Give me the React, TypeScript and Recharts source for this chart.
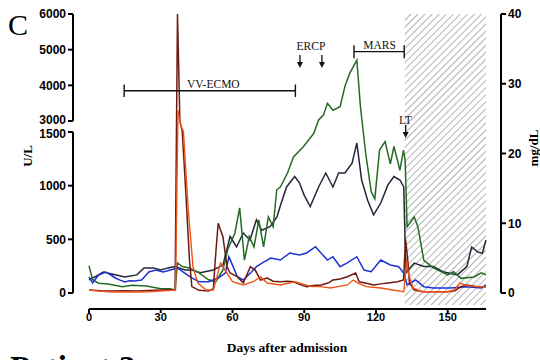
import { LineChart, Line, XAxis, YAxis, ReferenceArea, ReferenceLine, ReferenceDot } from "recharts";

// ---- values (left axis U/L, right axis mg/dL) ----
const maroonDays = [0, 5, 10, 15, 20, 25, 30, 33, 36, 37, 38, 39, 40.5, 42, 43, 46, 50, 52, 52.8, 54, 56, 57.7, 59, 62, 64.5, 67.5, 69.5, 71.7, 74.5, 77, 80, 83, 85.5, 88, 91, 94, 97, 100, 102, 105, 108, 111.5, 113, 116, 119, 122, 125, 129, 131.5, 132.4, 133.3, 134, 136, 140, 145, 150, 153, 155.5, 158, 162.5, 166];
const maroonVals = [28, 22, 19, 20, 19, 24, 28, 30, 30, 6000, 3000, 1550, 930, 310, 60, 25, 19, 40, 307, 650, 525, 245, 186, 152, 93, 245, 214, 121, 140, 110, 105, 110, 105, 80, 59, 70, 75, 93, 121, 130, 152, 186, 105, 90, 75, 85, 93, 105, 121, 500, 300, 93, 28, 12, 12, 12, 20, 59, 75, 59, 59];

const orangeDays = [0, 5, 10, 15, 20, 25, 30, 33, 36.2, 37.2, 38.3, 39.5, 41.5, 43.5, 45.5, 49, 52, 53.5, 55, 57.7, 60, 64.5, 68.7, 71.7, 74.5, 80, 86, 90, 93, 97, 101, 104, 108, 110.5, 112.5, 116, 122, 127, 131.6, 132.8, 133.5, 135.5, 139, 145, 150, 153, 155, 158, 162, 166];
const orangeVals = [28, 15, 9, 12, 9, 12, 19, 22, 28, 3300, 2500, 1550, 773, 242, 93, 28, 28, 150, 280, 186, 105, 75, 105, 152, 93, 75, 105, 80, 59, 59, 47, 59, 75, 121, 93, 59, 47, 28, 12, 307, 186, 47, 12, 12, 12, 30, 93, 70, 59, 59];

const blueDays = [0, 1.5, 4, 7, 9, 11, 13, 15, 17, 19, 22, 25, 28, 31, 34, 37, 40, 43, 46, 50, 54, 57, 58.5, 60, 62, 64.5, 67.5, 70, 72.5, 76, 80, 84, 88, 91, 94.7, 97, 99.7, 102, 105, 108, 112, 115, 118, 122, 126, 129.5, 131.6, 133, 136.6, 140, 144, 151, 158, 164, 166];
const blueVals = [149, 93, 168, 196, 170, 140, 120, 102, 115, 112, 121, 196, 214, 196, 214, 233, 186, 140, 105, 105, 140, 186, 338, 260, 152, 121, 186, 245, 280, 326, 307, 373, 354, 373, 431, 373, 307, 338, 245, 280, 338, 214, 199, 307, 261, 245, 186, 75, 121, 59, 47, 47, 59, 47, 75];

const navyDays = [0, 3, 6, 10, 15, 20, 23, 27, 30, 33, 36, 40, 43, 46.5, 52, 56, 59, 61.7, 64.5, 67.3, 70, 72.2, 75.7, 78.6, 80, 82.6, 86, 88, 90, 92.5, 96, 99, 102, 104.4, 107, 110, 112, 114, 116.5, 119, 122, 125, 127.5, 130, 131.6, 132.5, 136, 140, 144, 148, 154, 158, 160, 162.5, 164.5, 166];
const navyVals = [1.9, 2.4, 3.0, 2.7, 2.3, 2.6, 3.6, 3.6, 3.3, 3.6, 3.8, 3.3, 3.3, 2.9, 3.3, 4.0, 8.1, 6.6, 8.6, 7.6, 10.5, 9.0, 9.5, 10.9, 12.5, 15.2, 16.7, 15.8, 14.0, 12.4, 15.2, 17.2, 15.2, 17.2, 17.2, 18.6, 21.5, 16.2, 13.3, 11.2, 12.9, 15.5, 16.7, 16.2, 15.2, 2.9, 4.3, 3.8, 3.8, 3.05, 2.6, 3.8, 6.6, 5.9, 5.7, 7.6];

const greenDays = [0, 1.5, 4, 8, 14, 18, 24, 30, 34, 36, 37, 39, 42, 46, 50, 53, 56, 58, 61, 63, 65, 67, 69, 71, 73, 75, 77, 78.5, 80, 83, 85.5, 89.7, 92, 94, 96, 98, 99.7, 102, 105, 107, 109, 112, 113.5, 115.7, 118, 119.5, 121.5, 123.8, 126, 127.5, 129, 130, 131.5, 132.2, 133, 136, 137.5, 140, 144, 150, 152.5, 155.5, 161, 164, 166];
const greenVals = [3.9, 1.9, 1.4, 1.3, 0.9, 1.1, 1.0, 0.6, 0.6, 0.4, 4.3, 3.8, 3.6, 2.9, 1.9, 1.6, 3.3, 6.2, 8.6, 12.2, 4.7, 8.1, 6.6, 10.5, 6.6, 10.9, 9.5, 14.8, 15.2, 17.2, 19.5, 21.0, 22.0, 22.9, 24.8, 25.5, 27.2, 26.2, 26.7, 29.6, 31.5, 33.4, 26.7, 20.0, 14.5, 13.5, 20.5, 21.7, 18.5, 21.0, 19.0, 17.6, 20.5, 19.0, 9.5, 10.9, 9.5, 4.7, 3.6, 2.6, 3.05, 2.1, 2.3, 2.9, 2.6];

const xTicks = [0, 30, 60, 90, 120, 150];
const leftTicks = [0, 500, 1000, 1500, 3000, 4000, 5000, 6000];
const rightTicks = [0, 10, 20, 30, 40];
const X_MAX = 166;

// broken left axis: 0-1500 below, 3000-6000 above, mapped to pixel-proportional units
const LOW_MAX = 1500, HIGH_MIN = 3000, HIGH_MAX = 6000;
const LOW_H = 161, GAP_H = 11, HIGH_H = 107;
const BROKEN_TOP = LOW_H + GAP_H + HIGH_H;
const toBroken = (v: number) =>
  v <= LOW_MAX ? (v / LOW_MAX) * LOW_H
    : v <= HIGH_MIN ? LOW_H + ((v - LOW_MAX) / (HIGH_MIN - LOW_MAX)) * GAP_H
      : LOW_H + GAP_H + ((v - HIGH_MIN) / (HIGH_MAX - HIGH_MIN)) * HIGH_H;
const fromBroken = (t: number) => leftTicks.find((v) => Math.abs(toBroken(v) - t) < 0.01);

const rows = (days: number[], vals: number[], f = (v: number) => v) =>
  days.map((d, i) => ({ day: d, v: f(vals[i]) }));

// plot geometry
const W = 540, H = 360;
const PLOT_L = 73, PLOT_R = 501, PLOT_T = 14, PLOT_B = 309;
const PAD_L = 16, PAD_R = 15, PAD_B = 16;
const pxPerDay = (PLOT_R - PLOT_L - PAD_L - PAD_R) / X_MAX;
const pxPerUnit = (PLOT_B - PAD_B - PLOT_T) / 40;
const AXIS_L_DAY = -PAD_L / pxPerDay;
const AXIS_R_DAY = X_MAX + PAD_R / pxPerDay;
const X_AXIS_Y = -PAD_B / pxPerUnit;
const HATCH_BOTTOM = -12 / pxPerUnit;

const tickFont = { fill: "#000", fontSize: 12, fontWeight: 700, fontFamily: "Liberation Sans, Arial" };
const serif = "Liberation Serif, Times New Roman";
const axisStroke = { stroke: "#000", strokeWidth: 2 };

// left tick labels; the two labels at the break sit a touch apart
function LeftTick({ x, y, payload }: any) {
  const v = fromBroken(payload.value);
  const dy = v === HIGH_MIN ? -1.5 : v === LOW_MAX ? 1.5 : 0;
  return (
    <text x={x} y={y + dy} dy="0.355em" textAnchor="end" {...tickFont}>{v}</text>
  );
}

const Label = (text: string) => (p: any) => (
  <text x={p.cx} y={p.cy} textAnchor="middle" fontFamily={serif} fontSize={11.5} fill="#111">{text}</text>
);
const Arrow = (p: any) => (
  <g>
    <line x1={p.cx} y1={p.cy - 13} x2={p.cx} y2={p.cy - 5} stroke="#111" strokeWidth={1.3} />
    <path d={`M${p.cx - 3},${p.cy - 6} L${p.cx + 3},${p.cy - 6} L${p.cx},${p.cy} Z`} fill="#111" />
  </g>
);
const Hatch = (p: any) => (
  <g>
    <defs>
      <pattern id="hatch" patternUnits="userSpaceOnUse" width={5} height={5} patternTransform="rotate(45)">
        <line x1={0} y1={0} x2={0} y2={5} stroke="#b3b3b3" strokeWidth={2} />
      </pattern>
    </defs>
    <rect x={p.x} y={p.y} width={p.width} height={p.height} fill="url(#hatch)" />
  </g>
);

export default function App() {
  const bracket = (x1: number, x2: number, y: number, cap: number, key: string) => [
    <ReferenceLine key={key + "h"} yAxisId="right" segment={[{ x: x1, y }, { x: x2, y }]} stroke="#111" strokeWidth={1.4} ifOverflow="visible" />,
    <ReferenceLine key={key + "a"} yAxisId="right" segment={[{ x: x1, y: y - cap }, { x: x1, y: y + cap }]} stroke="#111" strokeWidth={1.4} ifOverflow="visible" />,
    <ReferenceLine key={key + "b"} yAxisId="right" segment={[{ x: x2, y: y - cap }, { x: x2, y: y + cap }]} stroke="#111" strokeWidth={1.4} ifOverflow="visible" />,
  ];

  return (
    <div style={{ position: "absolute", left: 0, top: 0, width: W, height: H, overflow: "hidden", background: "#fff" }}>
      <LineChart width={W} height={H} margin={{ top: PLOT_T, right: W - PLOT_R - 30, bottom: H - PLOT_B - 20, left: PLOT_L - 58 }}>
        <XAxis type="number" dataKey="day" domain={[0, X_MAX]} ticks={xTicks} interval={0}
          padding={{ left: PAD_L, right: PAD_R }} axisLine={false} tickLine={axisStroke} tickSize={4} tickMargin={0}
          height={20} tick={{ ...tickFont, fontSize: 11 }} />
        <YAxis yAxisId="left" type="number" domain={[0, BROKEN_TOP]} ticks={leftTicks.map(toBroken)} interval={0}
          padding={{ top: 0, bottom: PAD_B }} axisLine={false} tickLine={axisStroke} tickSize={5} width={58} tick={<LeftTick />} />
        <YAxis yAxisId="right" orientation="right" type="number" domain={[0, 40]} ticks={rightTicks} interval={0}
          padding={{ top: 0, bottom: PAD_B }} axisLine={false} tickLine={axisStroke} tickSize={5} width={30} tick={tickFont} />

        <ReferenceArea yAxisId="right" x1={132} x2={X_MAX} y1={HATCH_BOTTOM} y2={40} ifOverflow="visible" shape={Hatch} />

        {/* axis lines drawn as segments so the left one can be broken */}
        <ReferenceLine yAxisId="left" segment={[{ x: AXIS_L_DAY, y: 0 }, { x: AXIS_L_DAY, y: LOW_H }]} {...axisStroke} ifOverflow="visible" />
        <ReferenceLine yAxisId="left" segment={[{ x: AXIS_L_DAY, y: LOW_H + GAP_H }, { x: AXIS_L_DAY, y: BROKEN_TOP }]} {...axisStroke} ifOverflow="visible" />
        <ReferenceLine yAxisId="right" segment={[{ x: AXIS_R_DAY, y: 0 }, { x: AXIS_R_DAY, y: 40 }]} {...axisStroke} ifOverflow="visible" />
        <ReferenceLine yAxisId="right" segment={[{ x: 0, y: X_AXIS_Y }, { x: X_MAX, y: X_AXIS_Y }]} {...axisStroke} ifOverflow="visible" />

        <Line data={rows(navyDays, navyVals)} dataKey="v" yAxisId="right" type="linear" stroke="#23263c" strokeWidth={1.5} dot={false} isAnimationActive={false} />
        <Line data={rows(greenDays, greenVals)} dataKey="v" yAxisId="right" type="linear" stroke="#256b25" strokeWidth={1.5} dot={false} isAnimationActive={false} />
        <Line data={rows(blueDays, blueVals, toBroken)} dataKey="v" yAxisId="left" type="linear" stroke="#1c32d4" strokeWidth={1.5} dot={false} isAnimationActive={false} />
        <Line data={rows(maroonDays, maroonVals, toBroken)} dataKey="v" yAxisId="left" type="linear" stroke="#6e1a12" strokeWidth={1.5} dot={false} isAnimationActive={false} />
        <Line data={rows(orangeDays, orangeVals, toBroken)} dataKey="v" yAxisId="left" type="linear" stroke="#ee5416" strokeWidth={1.4} dot={false} isAnimationActive={false} />

        {/* treatment annotations */}
        {bracket(14.7, 86.3, 29.0, 0.89, "ecmo")}
        <ReferenceDot yAxisId="right" x={52} y={29.35} r={0} shape={Label("VV-ECMO")} />
        <ReferenceDot yAxisId="right" x={92.8} y={34.84} r={0} shape={Label("ERCP")} />
        <ReferenceDot yAxisId="right" x={88.2} y={32.26} r={0} shape={Arrow} />
        <ReferenceDot yAxisId="right" x={97.4} y={32.26} r={0} shape={Arrow} />
        {bracket(110.8, 131.8, 34.6, 0.93, "mars")}
        <ReferenceDot yAxisId="right" x={121.5} y={35.05} r={0} shape={Label("MARS")} />
        <ReferenceDot yAxisId="right" x={132.3} y={24.23} r={0} shape={Label("LT")} />
        <ReferenceDot yAxisId="right" x={132.4} y={22.22} r={0} shape={Arrow} />
      </LineChart>

      <svg width={W} height={H} style={{ position: "absolute", left: 0, top: 0, pointerEvents: "none" }}>
        <text x={8} y={35} fontFamily={serif} fontSize={30} fill="#000">C</text>
        <text x={32} y={156} transform="rotate(-90 32 156)" textAnchor="middle" fontFamily={serif} fontWeight={700} fontSize={13} fill="#000">U/L</text>
        <text x={538} y={148} transform="rotate(-90 538 148)" textAnchor="middle" fontFamily={serif} fontWeight={700} fontSize={13} fill="#000">mg/dL</text>
        <text x={287} y={352} textAnchor="middle" fontFamily={serif} fontWeight={700} fontSize={13.5} fill="#000">Days after admission</text>
        <text x={10} y={379} fontFamily={serif} fontWeight={700} fontSize={33} fill="#000">Patient 3</text>
      </svg>
    </div>
  );
}
